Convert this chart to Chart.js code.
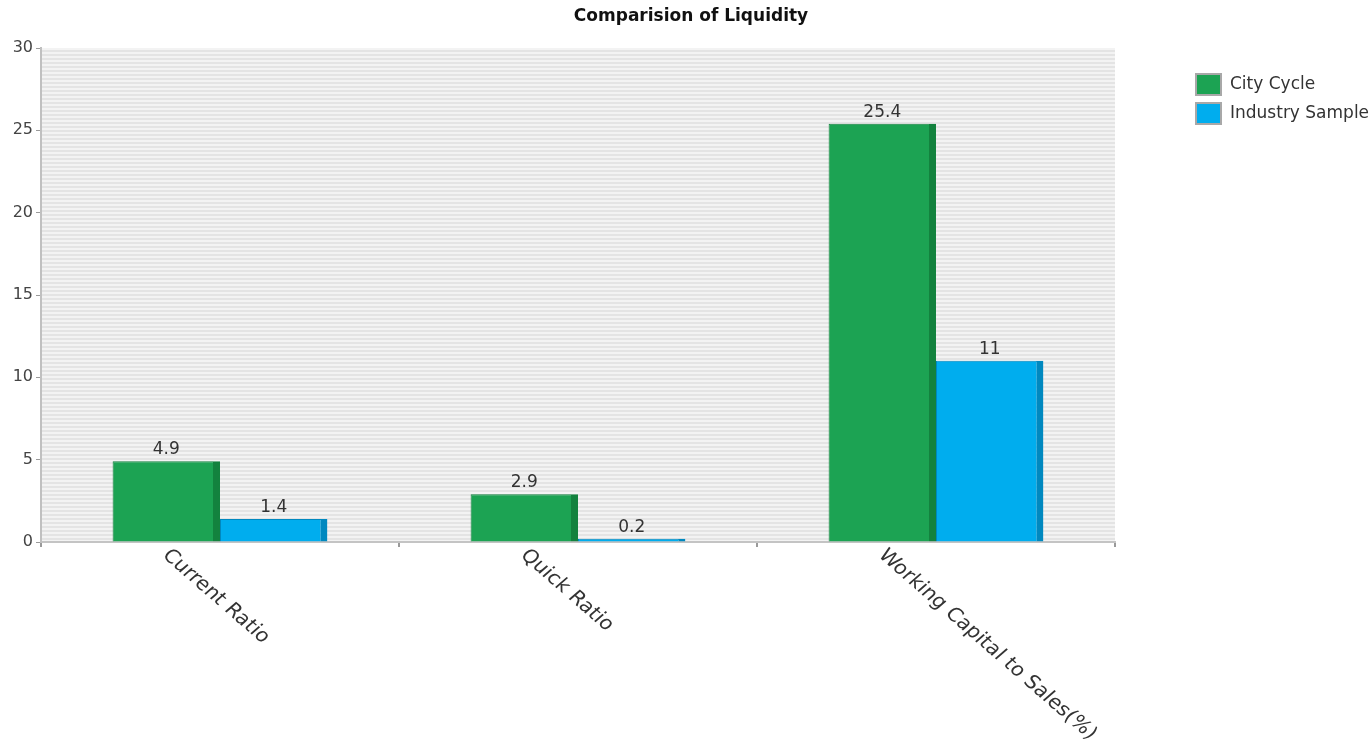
<!DOCTYPE html>
<html>
<head>
<meta charset="utf-8">
<title>Comparision of Liquidity</title>
<script src="https://cdn.jsdelivr.net/npm/chart.js"></script>
<style>
    html, body { margin: 0; padding: 0; background: #ffffff; }
    #wrap { width: 1372px; height: 742px; position: relative; }
</style>
</head>
<body>
<div id="wrap"><canvas id="grafico"></canvas></div>
<script>
var categorias = ['Current Ratio', 'Quick Ratio', 'Working Capital to Sales(%)'];
var cityCycle = [4.9, 2.9, 25.4];
var industrySample = [1.4, 0.2, 11];
var seriesNomes = ['City Cycle', 'Industry Sample'];
var ticksY = [0, 5, 10, 15, 20, 25, 30];
var titulo = 'Comparision of Liquidity';

var fonte = 'DejaVu Sans, Verdana, sans-serif';

// fundo listrado da area do grafico
function criarListras(ctx) {
    var c = document.createElement('canvas');
    c.width = 4;
    c.height = 4;
    var p = c.getContext('2d');
    p.fillStyle = '#f3f3f3';
    p.fillRect(0, 0, 4, 2);
    p.fillStyle = '#e4e4e4';
    p.fillRect(0, 2, 4, 2);
    return ctx.createPattern(c, 'repeat');
}

var fundoListrado = {
    id: 'fundoListrado',
    beforeDraw: function (chart) {
        var a = chart.chartArea;
        var ctx = chart.ctx;
        ctx.save();
        ctx.fillStyle = criarListras(ctx);
        ctx.fillRect(a.left, a.top, a.right - a.left, a.bottom - a.top);
        ctx.restore();
    }
};

// valores em cima das barras
var valoresBarras = {
    id: 'valoresBarras',
    afterDatasetsDraw: function (chart) {
        var ctx = chart.ctx;
        ctx.save();
        ctx.font = '17px ' + fonte;
        ctx.fillStyle = '#333333';
        ctx.textAlign = 'center';
        ctx.textBaseline = 'alphabetic';
        chart.data.datasets.forEach(function (ds, i) {
            chart.getDatasetMeta(i).data.forEach(function (bar, j) {
                ctx.fillText(String(ds.data[j]), bar.x, bar.y - 7);
            });
        });
        ctx.restore();
    }
};

// titulo, rotulos das categorias inclinados e legenda lateral
var rotulosELegenda = {
    id: 'rotulosELegenda',
    afterDraw: function (chart) {
        var ctx = chart.ctx;
        var xs = chart.scales.x;
        var a = chart.chartArea;
        ctx.save();
        ctx.font = 'bold 17px ' + fonte;
        ctx.fillStyle = '#111111';
        ctx.textAlign = 'center';
        ctx.textBaseline = 'alphabetic';
        ctx.fillText(titulo, 691, 21);

        ctx.font = '21.5px ' + fonte;
        ctx.fillStyle = '#333333';
        ctx.textAlign = 'left';
        ctx.textBaseline = 'top';
        categorias.forEach(function (nome, i) {
            ctx.save();
            ctx.translate(xs.getPixelForValue(i) - 47, a.bottom + 4);
            ctx.scale(1, 0.87);
            ctx.rotate(Math.PI / 4);
            ctx.fillText(nome, 0, 0);
            ctx.restore();
        });

        ctx.font = '17px ' + fonte;
        ctx.textBaseline = 'middle';
        chart.data.datasets.forEach(function (ds, i) {
            var y = 73 + i * 29;
            ctx.fillStyle = '#a8a8a8';
            ctx.fillRect(1195, y, 27, 23);
            ctx.fillStyle = ds.backgroundColor;
            ctx.fillRect(1197, y + 2, 23, 19);
            ctx.fillStyle = '#333333';
            ctx.fillText(ds.label, 1230, y + 12);
        });
        ctx.restore();
    }
};

var ctx = document.getElementById('grafico').getContext('2d');
var myChart = new Chart(ctx, {
    type: 'bar',
    data: {
        labels: categorias,
        datasets: [{
            label: seriesNomes[0],
            data: cityCycle,
            backgroundColor: '#1ca353',
            borderColor: '#13823e',
            borderWidth: { top: 1, left: 1, right: 7, bottom: 0 },
            borderSkipped: false
        }, {
            label: seriesNomes[1],
            data: industrySample,
            backgroundColor: '#00adee',
            borderColor: '#0088bf',
            borderWidth: { top: 1, left: 1, right: 7, bottom: 0 },
            borderSkipped: false
        }]
    },
    options: {
        responsive: true,
        maintainAspectRatio: false,
        animation: false,
        categoryPercentage: 0.6,
        barPercentage: 1.0,
        layout: { padding: { left: 0, right: 257, top: 48, bottom: 0 } },
        plugins: {
            legend: { display: false },
            tooltip: { enabled: false },
            title: { display: false }
        },
        scales: {
            x: {
                ticks: { display: false },
                grid: {
                    display: true,
                    drawOnChartArea: false,
                    drawTicks: true,
                    tickLength: 5,
                    color: '#9a9a9a',
                    lineWidth: 2
                },
                border: { display: true, color: '#c4c4c4', width: 2 },
                afterFit: function (scale) { scale.height = 200; }
            },
            y: {
                min: 0,
                max: 30,
                afterBuildTicks: function (scale) {
                    scale.ticks = ticksY.map(function (v) { return { value: v }; });
                },
                ticks: {
                    color: '#444444',
                    padding: 3,
                    font: { family: fonte, size: 16 }
                },
                grid: {
                    display: true,
                    drawOnChartArea: false,
                    drawTicks: true,
                    tickLength: 5,
                    color: '#9a9a9a'
                },
                border: { display: true, color: '#c0c0c0', width: 2 },
                afterFit: function (scale) { scale.width = 41; }
            }
        }
    },
    plugins: [fundoListrado, valoresBarras, rotulosELegenda]
});
</script>
</body>
</html>
